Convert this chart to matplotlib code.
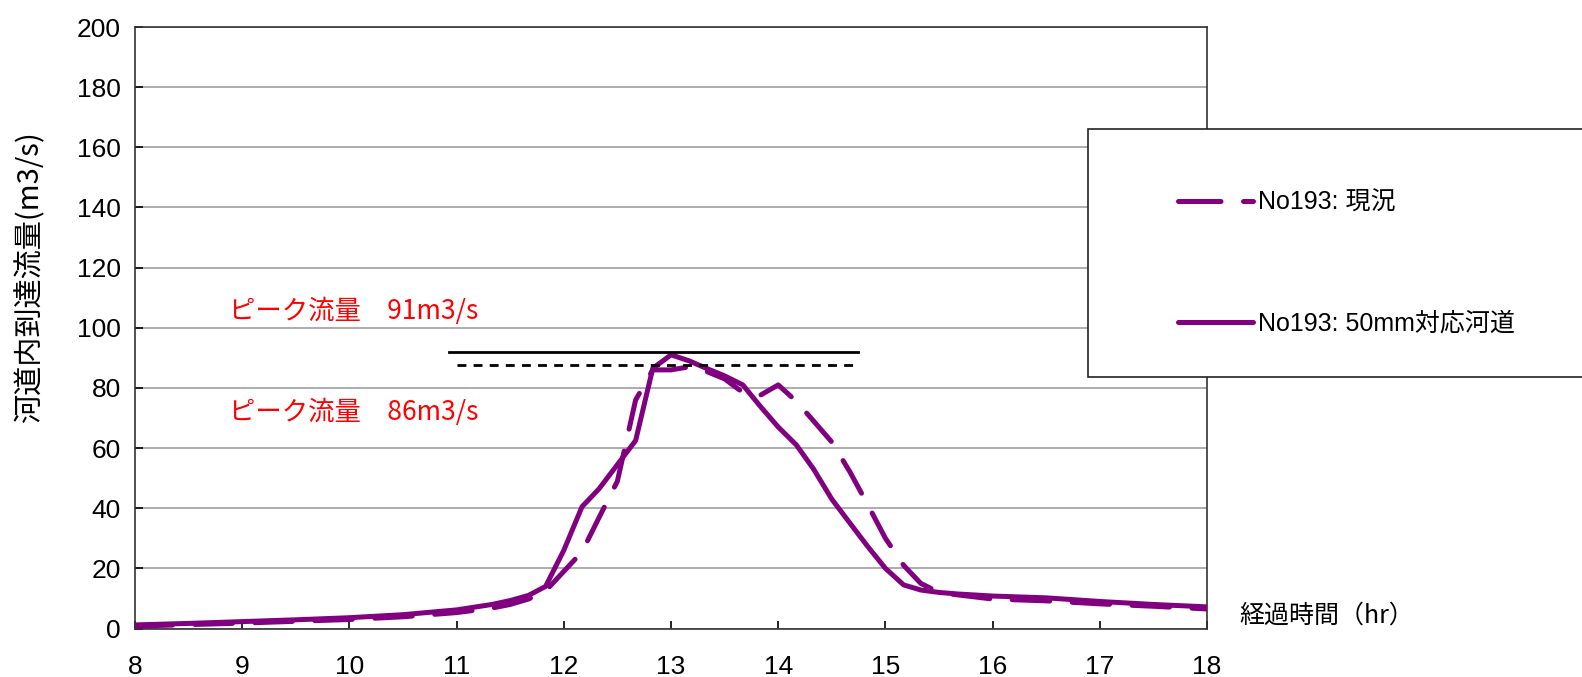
import matplotlib
matplotlib.use("Agg")
import matplotlib.pyplot as plt
from matplotlib.lines import Line2D
from matplotlib.patches import Rectangle

# ---- data ----
t_plan = [8.0, 8.5, 9.0, 9.5, 10.0, 10.5, 11.0, 11.33, 11.5, 11.67, 11.83, 12.0, 12.17,
          12.33, 12.5, 12.67, 12.83, 13.0, 13.17, 13.33, 13.5, 13.67, 13.83, 14.0, 14.17,
          14.33, 14.5, 14.67, 14.83, 15.0, 15.17, 15.33, 15.5, 15.67, 16.0, 16.5, 17.0,
          17.5, 18.0]
q_plan = [1.2, 1.7, 2.3, 2.9, 3.6, 4.6, 6.2, 8.0, 9.3, 11.0, 14.0, 26, 40.5,
          46.5, 54.5, 62.5, 86.5, 91, 89, 86.5, 84, 81, 74, 67, 61,
          53, 43, 35, 27.5, 20, 14.5, 12.8, 12.0, 11.5, 10.8, 10.2, 9.0,
          8.0, 7.2]

t_now = [8.0, 9.0, 10.0, 10.5, 11.0, 11.33, 11.5, 11.67, 11.83, 12.0, 12.17, 12.33,
         12.5, 12.67, 12.83, 13.0, 13.17, 13.33, 13.5, 13.67, 13.83, 14.0, 14.17, 14.33,
         14.5, 14.67, 14.83, 15.0, 15.17, 15.33, 15.5, 15.67, 16.0, 16.5, 17.0, 17.5, 18.0]
q_now = [0.8, 1.8, 3.0, 3.9, 5.3, 6.8, 8.0, 9.8, 12.5, 19, 25.5, 37,
         49, 76, 86, 86, 87, 85.5, 83, 78.5, 77.5, 81, 75.5, 69,
         62, 52, 41.5, 30, 21, 15, 12, 11.2, 9.8, 9.2, 8.2, 7.4, 6.5]

label_now = "No193: 現況"
label_plan = "No193: 50mm対応河道"
peak_plan = 91
peak_now = 86
peak_texts = ["ピーク流量　91m3/s", "ピーク流量　86m3/s"]
xticks = list(range(8, 19))
yticks = list(range(0, 201, 20))

purple = "#800080"

fig = plt.figure(figsize=(15.82, 6.77), dpi=100)
ax = fig.add_axes([0.0853, 0.0716, 0.6777, 0.8885])

ax.grid(axis="y", color="#a6a6a6", linewidth=1.3, zorder=0)
ax.set_axisbelow(True)

ax.plot(t_now, q_now, color=purple, linewidth=3.6, linestyle=(0, (7.5, 4.5)),
        dash_capstyle="round", solid_capstyle="round", zorder=3)
ax.plot(t_plan, q_plan, color=purple, linewidth=3.6, solid_joinstyle="round",
        solid_capstyle="round", zorder=4)

# peak reference lines
ax.plot([10.93, 14.74], [peak_plan + 1, peak_plan + 1], color="black", linewidth=2, zorder=5)
ax.plot([11.0, 14.74], [peak_now + 1.5, peak_now + 1.5], color="black", linewidth=2,
        linestyle=(0, (3.2, 2.6)), zorder=5)

jp = ["Noto Sans CJK JP", "DejaVu Sans"]
ax.text(8.88, 105.5, peak_texts[0], color="red", fontsize=19, family=jp,
        va="center", ha="left")
ax.text(8.88, 72, peak_texts[1], color="red", fontsize=19, family=jp,
        va="center", ha="left")

ax.set_xlim(8, 18)
ax.set_ylim(0, 200)
ax.set_xticks(xticks)
ax.set_yticks(yticks)
ax.tick_params(axis="both", direction="in", length=6, width=1.2, colors="black",
               labelsize=19)
ax.tick_params(axis="x", pad=19)
ax.tick_params(axis="y", pad=10)
for lab in ax.get_xticklabels() + ax.get_yticklabels():
    lab.set_family("Liberation Sans")
for s in ax.spines.values():
    s.set_color("#333333")
    s.set_linewidth(1.2)

fig.text(30 / 1582, 1 - 277 / 677, "河道内到達流量(m3/s)", rotation=90, fontsize=21,
         family=jp, ha="center", va="center")
fig.text(1239 / 1582, 1 - 616 / 677, "経過時間（hr）", fontsize=18, family=jp,
         ha="left", va="center")

# legend box
fig.patches.append(Rectangle((1088 / 1582, 1 - 377 / 677), 0.4, 248 / 677,
                             transform=fig.transFigure, facecolor="white",
                             edgecolor="#222222", linewidth=1.2, zorder=1))
handles = [Line2D([], [], color=purple, linewidth=3.6, linestyle=(0, (8.5, 4.5)),
                  dash_capstyle="round"),
           Line2D([], [], color=purple, linewidth=3.6, solid_capstyle="round")]
leg = fig.legend(handles, [label_now, label_plan], loc="upper left",
                 bbox_to_anchor=(1155 / 1582, 1 - 168 / 677), frameon=False,
                 handlelength=3.0, handletextpad=0.2,
                 labelspacing=3.9, prop={"family": ["Liberation Sans", "Noto Sans CJK JP"], "size": 18})
leg.set_zorder(6)

fig.savefig("out.png", dpi=100)
